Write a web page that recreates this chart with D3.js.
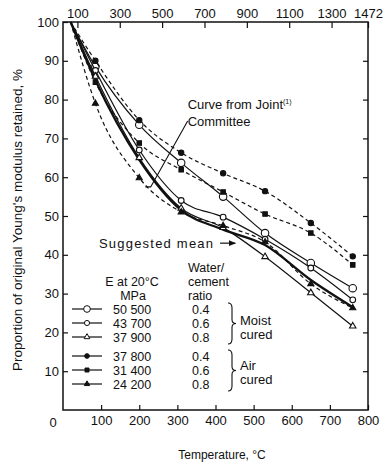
<!DOCTYPE html>
<html><head><meta charset="utf-8">
<script src="https://cdn.jsdelivr.net/npm/d3@7"></script>
<style>
body{margin:0;background:#fff}
text{font-family:"Liberation Sans",Arial,sans-serif;fill:#111}
</style>
</head><body>
<svg id="c" width="387" height="464"></svg>
<script>
// ---------- data ----------
const temps = [20, 85, 200, 310, 420, 530, 650, 760];
const moist04 = [100, 88.5, 73.5, 63.7, 55, 45.6, 37.9, 31.4];   // 50 500
const moist06 = [100, 87.5, 67, 54, 49.7, 44, 36.6, 28.4];       // 43 700
const moist08 = [100, 86, 65, 52, 47, 39.5, 30.2, 21.6];         // 37 900
const air04   = [100, 90, 74.7, 66.3, 61, 56.4, 48.2, 39.6];     // 37 800
const air06   = [100, 84.5, 68.8, 61.9, 56.2, 50.5, 45.6, 37.4]; // 31 400
const air08   = [100, 79, 59.8, 51, 47.5, 43.3, 32.5, 26.3];     // 24 200
const meanCurve = [100, 85, 64.5, 51.5, 46.5, 42.5, 33.5, 26.5];
const eValues = ["50 500", "43 700", "37 900", "37 800", "31 400", "24 200"];
const ratios = ["0.4", "0.6", "0.8", "0.4", "0.6", "0.8"];
const xTicksC = [100, 200, 300, 400, 500, 600, 700, 800];
const xTicksF = [100, 300, 500, 700, 900, 1100, 1300, 1472];
const yTicks = [10, 20, 30, 40, 50, 60, 70, 80, 90, 100];

const series = [
  {vals: moist04, dash: null, sym: d3.symbolCircle, size: 44, fill: "#fff"},
  {vals: moist06, dash: null, sym: d3.symbolCircle, size: 26, fill: "#fff"},
  {vals: moist08, dash: null, sym: d3.symbolTriangle, size: 18, fill: "#fff"},
  {vals: air04, dash: "4,3", sym: d3.symbolCircle, size: 22, fill: "#111"},
  {vals: air06, dash: "4,3", sym: d3.symbolSquare, size: 20, fill: "#111"},
  {vals: air08, dash: "4,3", sym: d3.symbolTriangle, size: 16, fill: "#111"}
];

// ---------- layout ----------
const svg = d3.select("#c");
const L = 63, R = 368, T = 22, B = 410;
const x = d3.scaleLinear([0, 800], [L, R]);
const xF = d3.scaleLinear([32, 1472], [L, R]);
const y = d3.scaleLinear([0, 100], [B, T]);

function styleAxis(g, fs) {
  g.select(".domain").remove();
  g.selectAll("line").attr("stroke", "#111").attr("stroke-width", 1.2);
  g.selectAll("text").attr("font-size", fs).attr("fill", "#111")
    .style("font-family", '"Liberation Sans",Arial,sans-serif');
}

svg.append("g").attr("transform", `translate(0,${B})`)
  .call(d3.axisBottom(x).tickValues(xTicksC).tickSizeInner(-5).tickSizeOuter(0).tickPadding(6))
  .call(g => styleAxis(g, 13));
svg.append("text").attr("x", x(0) - 10).attr("y", B + 17).attr("text-anchor", "middle")
  .attr("font-size", 13).text("0");
svg.append("g").attr("transform", `translate(0,${T})`)
  .call(d3.axisTop(xF).tickValues(xTicksF).tickFormat(d3.format("d"))
    .tickSizeInner(-6).tickSizeOuter(0).tickPadding(4))
  .call(g => styleAxis(g, 13));
svg.append("g").attr("transform", `translate(${L},0)`)
  .call(d3.axisLeft(y).tickValues(yTicks).tickSizeInner(-5).tickSizeOuter(0).tickPadding(4))
  .call(g => styleAxis(g, 13));
svg.append("g").attr("transform", `translate(${R},0)`)
  .call(d3.axisRight(y).tickValues(yTicks.slice(0, 9)).tickSizeInner(-5).tickSizeOuter(0).tickFormat(""))
  .call(g => styleAxis(g, 13));

svg.append("rect").attr("x", L).attr("y", T).attr("width", R - L).attr("height", B - T)
  .attr("fill", "none").attr("stroke", "#111").attr("stroke-width", 1.5);

// ---------- lines ----------
const line = d3.line().x((d, i) => x(temps[i])).y(d => y(d)).curve(d3.curveMonotoneX);

svg.append("path").datum(meanCurve).attr("d", line)
  .attr("fill", "none").attr("stroke", "#111").attr("stroke-width", 2.3);

series.forEach(s => {
  svg.append("path").datum(s.vals).attr("d", line)
    .attr("fill", "none").attr("stroke", "#111").attr("stroke-width", 1.2)
    .attr("stroke-dasharray", s.dash);
  svg.append("g").selectAll("path").data(s.vals.slice(1)).join("path")
    .attr("transform", (d, i) => `translate(${x(temps[i + 1])},${y(d)})`)
    .attr("d", d3.symbol(s.sym, s.size))
    .attr("fill", s.fill).attr("stroke", "#111").attr("stroke-width", 1.1);
});

// ---------- annotations ----------
const leader = [[327, 74.5], [230, 57.5], [216, 57.5]];
svg.append("path")
  .attr("d", d3.line().x(d => x(d[0])).y(d => y(d[1]))(leader))
  .attr("fill", "none").attr("stroke", "#111").attr("stroke-width", 1.1);
const cj = svg.append("text").attr("x", x(327)).attr("y", y(77.5)).attr("font-size", 13);
cj.append("tspan").text("Curve from Joint");
cj.append("tspan").attr("font-size", 7).attr("dy", -5).text("(1)");
svg.append("text").attr("x", x(327)).attr("y", y(73.2)).attr("font-size", 13).text("Committee");

svg.append("text").attr("x", 99).attr("y", y(41.8)).attr("font-size", 13)
  .attr("textLength", 114).attr("lengthAdjust", "spacing").text("Suggested mean");
svg.append("defs").append("marker").attr("id", "ah").attr("viewBox", "0 0 10 10")
  .attr("refX", 9).attr("refY", 5).attr("markerWidth", 6).attr("markerHeight", 6).attr("orient", "auto")
  .append("path").attr("d", "M0,1 L10,5 L0,9 Z").attr("fill", "#111");
svg.append("line").attr("x1", x(412)).attr("x2", x(452)).attr("y1", y(43)).attr("y2", y(43))
  .attr("stroke", "#111").attr("stroke-width", 1.2).attr("marker-end", "url(#ah)");

// ---------- legend ----------
const rowY = [309, 323, 337, 356, 370, 384];
const FS = 12.5;
svg.append("text").attr("x", 132).attr("y", 286).attr("text-anchor", "middle").attr("font-size", FS).text("E at 20°C");
svg.append("text").attr("x", 133).attr("y", 300).attr("text-anchor", "middle").attr("font-size", FS).text("MPa");
["Water/", "cement", "ratio"].forEach((t, i) =>
  svg.append("text").attr("x", 188).attr("y", 272 + i * 14).attr("font-size", FS).text(t));

series.forEach((s, i) => {
  const g = svg.append("g");
  g.append("line").attr("x1", 72).attr("x2", 102).attr("y1", rowY[i]).attr("y2", rowY[i])
    .attr("stroke", "#111").attr("stroke-width", 1.2);
  g.append("path").attr("transform", `translate(87,${rowY[i]})`)
    .attr("d", d3.symbol(s.sym, s.size * 0.8)).attr("fill", s.fill).attr("stroke", "#111").attr("stroke-width", 1);
  g.append("text").attr("x", 113).attr("y", rowY[i] + 4.5).attr("font-size", FS).text(eValues[i]);
  g.append("text").attr("x", 192).attr("y", rowY[i] + 4.5).attr("font-size", FS).text(ratios[i]);
});

function brace(xp, y0, y1) {
  const m = (y0 + y1) / 2;
  return `M${xp},${y0} Q${xp + 4},${y0} ${xp + 4},${y0 + 5} L${xp + 4},${m - 4} Q${xp + 4},${m} ${xp + 8},${m}`
    + ` Q${xp + 4},${m} ${xp + 4},${m + 4} L${xp + 4},${y1 - 5} Q${xp + 4},${y1} ${xp},${y1}`;
}
svg.append("path").attr("d", brace(228, 303, 344)).attr("fill", "none").attr("stroke", "#111").attr("stroke-width", 1.1);
svg.append("path").attr("d", brace(228, 350, 391)).attr("fill", "none").attr("stroke", "#111").attr("stroke-width", 1.1);
svg.append("text").attr("x", 240).attr("y", 325).attr("font-size", 13).text("Moist");
svg.append("text").attr("x", 240).attr("y", 339).attr("font-size", 13).text("cured");
svg.append("text").attr("x", 240).attr("y", 370).attr("font-size", 13).text("Air");
svg.append("text").attr("x", 240).attr("y", 384).attr("font-size", 13).text("cured");

// ---------- titles ----------
svg.append("text").attr("transform", `translate(22,${(T + B) / 2 + 4}) rotate(-90)`)
  .attr("text-anchor", "middle").attr("font-size", 13.5)
  .text("Proportion of original Young's modulus retained, %");
svg.append("text").attr("x", 222).attr("y", 459).attr("text-anchor", "middle").attr("font-size", 12)
  .text("Temperature, °C");
</script>
</body></html>
